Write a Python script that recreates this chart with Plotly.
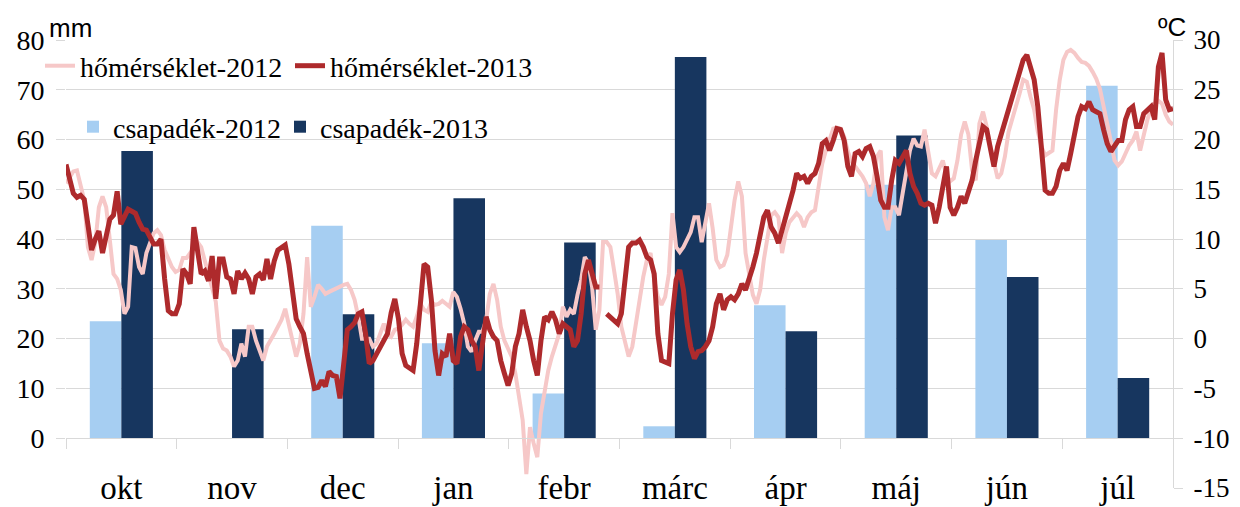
import plotly.graph_objects as go

months = ["okt", "nov", "dec", "jan", "febr", "márc", "ápr", "máj", "jún", "júl"]
precip_2012 = [23.5, 0.0, 42.7, 19.1, 9.0, 2.4, 26.7, 50.9, 39.8, 70.8]
precip_2013 = [57.7, 21.9, 24.9, 48.2, 39.3, 76.6, 21.5, 60.8, 32.4, 12.1]

# daily mean temperature, 1 Oct .. 31 Jul (day index 0..303)
temp_2012 = [
    15.6, 16.3, 16.8, 16.9, 15.3, 13.9, 9.2, 7.9, 9.6, 13.2,
    14.3, 13.2, 9.9, 6.5, 6.0, 4.9, 2.5, 3.2, 9.2, 9.1,
    7.2, 6.5, 8.6, 9.6, 10.6, 10.9, 10.4, 8.9, 8.1, 7.2,
    6.7, 6.9, 8.1, 8.1, 8.6, 9.2, 9.7, 9.2, 7.9, 6.4,
    5.2, 3.7, -0.2, -1.0, -1.2, -1.8, -2.8, -2.2, -0.5, -1.8,
    1.2, 1.2, -0.2, -1.3, -2.2, -0.8, -0.2, 0.5, 1.2, 1.9,
    3.0, 1.4, 0.2, -1.8, -0.5, 2.5, 8.2, 3.2, 4.2, 5.4,
    5.0, 4.5, 4.7, 4.9, 5.0, 5.2, 5.4, 5.5, 4.9, 3.9,
    2.2, 0.0, 0.0, 0.0, -0.8, -0.5, 0.5, 1.5, 0.5, 0.2,
    0.9, 1.0, 1.4, 1.9, 1.5, 1.2, 2.2, 3.5, 2.9, 2.7,
    3.7, 3.4, 3.5, 3.8, 3.5, 3.2, 4.7, 4.2, 3.0, 1.5,
    -0.8, -1.3, -0.2, 0.7, 0.7, 1.9, 4.5, 5.5, 3.9, 1.2,
    -0.2, -1.0, -1.8, -3.5, -5.8, -8.2, -13.6, -8.9, -10.5, -11.9,
    -7.5, -5.5, -3.2, -1.8, -0.5, 0.5, 3.2, 2.2, 2.9, 2.5,
    4.4, 5.9, 8.2, 7.6, 5.2, 0.9, 2.9, 9.7, 9.7, 9.2,
    6.9, 4.5, 1.2, -0.5, -1.8, -0.8, 1.5, 4.2, 6.2, 7.9,
    8.6, 5.9, 4.2, 3.4, 4.2, 6.5, 12.6, 9.2, 8.7, 9.2,
    9.9, 10.7, 12.2, 12.2, 9.7, 11.9, 13.6, 11.1, 7.9, 7.2,
    7.4, 8.4, 11.4, 13.9, 15.8, 14.3, 8.6, 6.5, 4.4, 3.5,
    4.9, 7.9, 9.9, 12.4, 12.7, 12.2, 8.6, 10.6, 11.7, 12.1,
    12.6, 12.2, 11.2, 12.2, 12.7, 12.9, 15.6, 17.6, 18.9, 20.1,
    21.1, 21.2, 21.1, 20.3, 18.8, 17.8, 17.3, 16.8, 16.3, 15.6,
    14.3, 15.6, 18.3, 18.9, 12.2, 10.9, 13.2, 13.2, 12.4, 14.6,
    16.9, 18.9, 20.1, 19.4, 19.3, 21.0, 18.8, 16.6, 16.3, 17.1,
    17.9, 16.4, 15.8, 16.1, 17.9, 20.5, 21.8, 20.5, 16.9, 15.9,
    21.6, 22.8, 21.3, 19.3, 17.6, 16.1, 16.6, 18.3, 20.8, 22.0,
    23.1, 24.6, 26.0, 25.8, 24.3, 23.0, 20.8, 19.3, 18.4, 18.6,
    18.9, 23.0, 26.0, 28.0, 28.8, 29.0, 28.7, 28.2, 27.8, 27.7,
    27.4, 26.8, 26.1, 25.1, 23.5, 21.6, 19.8, 17.9, 17.4, 17.8,
    18.6, 19.4, 19.9, 20.8, 18.9, 20.6, 22.0, 23.1, 23.6, 23.9,
    23.6, 22.5, 21.8, 21.5,
]

temp_2013 = [
    17.5, 15.8, 14.6, 14.2, 14.4, 14.0, 11.5, 8.9, 10.0, 10.8,
    8.6, 10.5, 12.0, 12.4, 14.8, 11.5, 12.2, 13.0, 12.8, 12.6,
    11.7, 11.0, 10.9, 10.2, 9.5, 9.5, 10.0, 6.0, 2.8, 2.5,
    2.5, 3.5, 7.0, 6.5, 5.5, 11.2, 8.5, 6.5, 6.8, 5.8,
    8.3, 4.0, 8.0, 8.0, 6.2, 6.0, 4.5, 6.8, 6.0, 6.6,
    6.0, 4.5, 6.2, 6.5, 5.9, 8.0, 6.0, 7.8, 8.9, 9.1,
    9.4, 7.5, 5.0, 2.0, 1.2, 0.5, -1.5, -3.5, -5.0, -4.9,
    -4.2, -4.8, -3.3, -3.7, -3.8, -6.0, -2.0, 0.9, 1.2, 1.6,
    2.5, 2.7, 0.5, -2.5, -2.2, -1.5, -0.8, -0.2, 0.5, 2.6,
    4.0, 2.0, -1.5, -2.7, -3.0, -3.2, -0.5, 3.0, 7.5, 7.2,
    3.9, -1.2, -3.7, -1.5, -1.8, 0.5, -2.2, -2.5, 0.2, 1.2,
    0.9, -0.2, -0.8, -3.2, -0.8, 2.2, 0.9, 0.2, -0.2, -2.2,
    -3.5, -4.7, -3.5, -0.8, 0.5, 2.9, 1.2, -0.2, -2.2, -3.7,
    -0.2, 2.2, 1.9, 2.7, 1.9, 0.5, 1.5, 1.2, 0.9, -0.8,
    -0.2, 2.5, 6.5, 7.9, 6.5, 5.2, 5.2, None, 2.5, 2.2,
    1.9, 1.5, 2.5, 6.5, 9.2, 9.6, 9.6, 9.9, 9.2, 8.2,
    7.9, 6.5, 0.5, -2.2, -2.3, -2.5, 2.5, 5.9, 6.9, 4.9,
    1.5, -0.8, -2.0, -1.3, -1.2, -0.8, -0.2, 1.2, 3.5, 4.5,
    2.9, 3.9, 4.2, 3.9, 4.5, 5.5, 4.9, 5.9, 7.2, 8.6,
    10.2, 12.2, 12.9, 11.2, 10.6, 9.6, 10.9, 12.2, 13.6, 14.9,
    16.6, 16.1, 16.3, 15.6, 16.3, 16.6, 17.6, 19.6, 19.9, 18.9,
    19.9, 21.1, 21.0, 19.9, 17.3, 16.3, 18.6, 18.8, 18.3, 19.1,
    19.3, 18.3, 16.3, 13.9, 13.2, 13.2, 15.9, 17.9, 17.6, 18.3,
    18.9, 16.6, 15.3, 14.6, 13.6, 13.4, 13.6, 13.4, 11.6, 13.2,
    15.3, 17.3, 13.2, 12.4, 13.2, 14.3, 13.6, 14.6, 15.9, 17.9,
    19.9, 21.3, 21.0, 18.9, 17.3, 19.3, 20.6, 21.6, 23.0, 24.3,
    25.6, 27.0, 28.0, 28.5, 27.3, 26.0, 23.3, 19.3, 14.9, 14.6,
    14.6, 15.3, 16.9, 17.6, 16.9, 18.6, 20.3, 22.3, 23.3, 23.1,
    23.8, 23.0, 22.8, 22.6, 21.0, 19.6, 18.8, 19.3, 19.9, 19.9,
    22.0, 23.0, 23.3, 21.3, 21.3, 22.6, 23.0, 23.3, 22.0, 27.3,
    28.7, 24.0, 23.0, 23.1,
]

left_ticks = [0, 10, 20, 30, 40, 50, 60, 70, 80]
left_labels = ["0", "10", "20", "30", "40", "50", "60", "70", "80"]
right_ticks = [-15, -10, -5, 0, 5, 10, 15, 20, 25, 30]
right_labels = ["-15", "-10", "-5", "0", "5", "10", "15", "20", "25", "30"]

SERIF = "Liberation Serif, Times New Roman, Tinos, serif"
SANS = "Liberation Sans, Arial, sans-serif"
GRID = "#d9d9d9"

days_2012 = list(range(len(temp_2012)))
days_2013 = list(range(len(temp_2013)))

fig = go.Figure()

fig.add_trace(go.Bar(x=months, y=precip_2012, name="csapadék-2012",
                     marker=dict(color="#A6CEF2", line=dict(width=0)),
                     xaxis="x", yaxis="y", legend="legend3"))
fig.add_trace(go.Bar(x=months, y=precip_2013, name="csapadék-2013",
                     marker=dict(color="#17365F", line=dict(width=0)),
                     xaxis="x", yaxis="y", legend="legend4"))
fig.add_trace(go.Scatter(x=days_2012, y=temp_2012, name="hőmérséklet-2012",
                         mode="lines", line=dict(color="#F6C8C8", width=4),
                         xaxis="x2", yaxis="y2", legend="legend"))
fig.add_trace(go.Scatter(x=days_2013, y=temp_2013, name="hőmérséklet-2013",
                         mode="lines", line=dict(color="#AE2A2C", width=5),
                         connectgaps=False,
                         xaxis="x2", yaxis="y2", legend="legend2"))

# the page body adds an 8px offset; work in page pixels
OFF = 8
W, H = 1240 - OFF, 507 - OFF
ml, mt = 66 - OFF, 40 - OFF
mr = W - (1173 - OFF)
mb = H - (488 - OFF)
pw, ph = W - ml - mr, H - mt - mb


def px_x(px):
    return (px - OFF - ml) / pw


def px_y(py):
    return (H - mb - (py - OFF)) / ph


legend_common = dict(orientation="h", xanchor="left", yanchor="middle",
                     bgcolor="rgba(0,0,0,0)", itemwidth=30,
                     font=dict(family=SERIF, size=28, color="black"))

fig.update_layout(
    width=W, height=H,
    margin=dict(l=ml, r=mr, t=mt, b=mb, autoexpand=False),
    paper_bgcolor="white", plot_bgcolor="white",
    barmode="group", bargap=0.43, bargroupgap=0,
    showlegend=True,
    legend=dict(x=px_x(40), y=px_y(66), **legend_common),
    legend2=dict(x=px_x(290), y=px_y(66), **legend_common),
    legend3=dict(x=px_x(73), y=px_y(127), **legend_common),
    legend4=dict(x=px_x(280), y=px_y(127), **legend_common),
    xaxis=dict(type="category", anchor="free", position=px_y(438),
               tickson="boundaries", ticks="outside", ticklen=10,
               tickcolor=GRID, showline=True, linecolor=GRID, linewidth=1,
               showgrid=False, zeroline=False, automargin=False,
               tickfont=dict(family=SERIF, size=33, color="black"),
               ticklabelstandoff=20),
    xaxis2=dict(overlaying="x", range=[0, len(temp_2013) - 1], visible=False,
                anchor="y2"),
    yaxis=dict(range=[-10, 80], tickvals=left_ticks, ticktext=left_labels,
               showgrid=True,
               gridcolor=GRID, gridwidth=1, zeroline=False, showline=False,
               ticks="outside", ticklen=9, tickcolor=GRID, automargin=False,
               tickfont=dict(family=SERIF, size=28, color="black"),
               ticklabelstandoff=6),
    yaxis2=dict(overlaying="y", side="right", anchor="x", range=[-15, 30],
                tickvals=right_ticks, ticktext=right_labels,
                showgrid=False, zeroline=False,
                showline=True, linecolor=GRID, linewidth=1,
                ticks="outside", ticklen=9, tickcolor=GRID, automargin=False,
                tickfont=dict(family=SERIF, size=27, color="black"),
                ticklabelstandoff=5),
    annotations=[
        dict(text="mm", xref="paper", yref="paper", x=px_x(70), y=px_y(28),
             xanchor="center", yanchor="middle", showarrow=False,
             font=dict(family=SANS, size=26, color="black")),
        dict(text="ºC", xref="paper", yref="paper", x=px_x(1172), y=px_y(27),
             xanchor="center", yanchor="middle", showarrow=False,
             font=dict(family=SANS, size=26, color="black")),
    ],
)

fig.write_html("out.html")
